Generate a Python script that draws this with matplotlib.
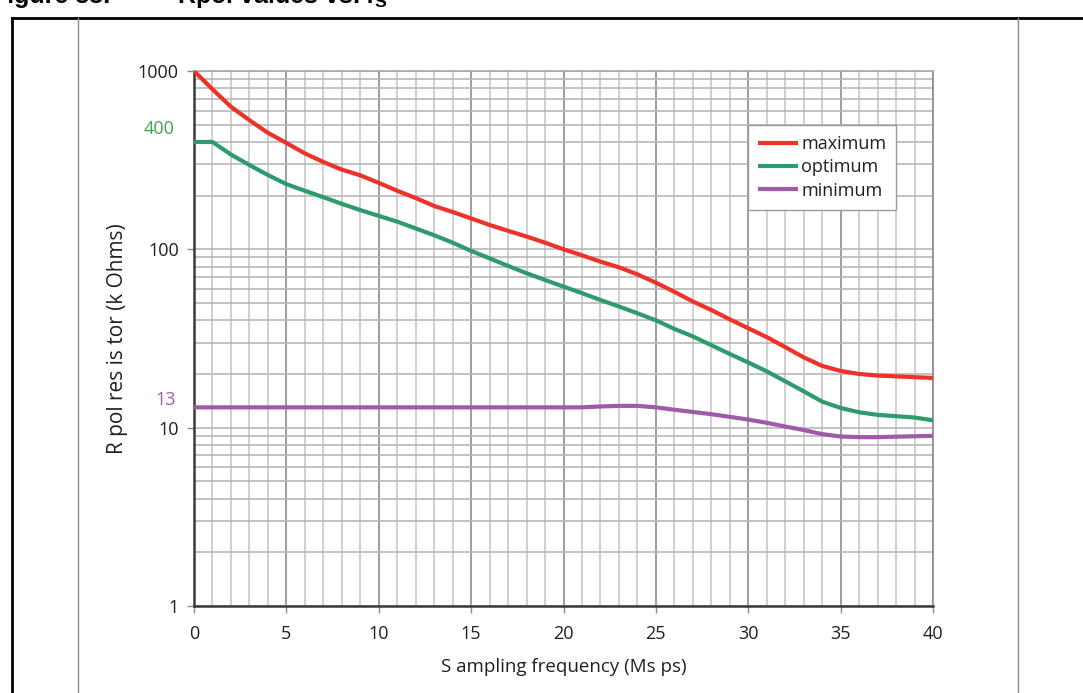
import matplotlib.pyplot as plt
from matplotlib.lines import Line2D
from matplotlib.ticker import LogLocator, NullFormatter, FixedLocator, MultipleLocator

plt.rcParams['font.family'] = ['Open Sans', 'DejaVu Sans']
plt.rcParams['mathtext.default'] = 'regular'

# значення (k Ohms)
freq = list(range(0, 41))
r_max = [1000, 790, 630, 530, 450, 395, 345, 309, 280, 260,
         236, 213, 194, 175, 162, 149, 137, 127, 118, 109,
         100, 92.6, 85.3, 79.3, 72.4, 65, 57.8, 51, 45.7, 40.5,
         36.1, 32.2, 28.3, 24.8, 22.2, 20.8, 20.0, 19.6, 19.4, 19.2, 19.0]
r_opt = [400, 400, 340, 297, 261, 232, 213, 196, 180, 166,
         154, 143, 131, 120, 109, 98, 89, 80.7, 73.5, 67.3,
         61.8, 56.8, 52, 47.8, 43.8, 40, 35.8, 32.5, 29, 25.9,
         23.2, 20.7, 18.2, 16.0, 14.0, 12.9, 12.2, 11.8, 11.6, 11.4, 11.0]
r_min = [13.0] * 22 + [13.15, 13.25, 13.25, 13.0, 12.6, 12.25, 11.9, 11.5,
                       11.1, 10.65, 10.15, 9.7, 9.2, 8.92, 8.85, 8.85, 8.9, 8.95, 9.0]

x_ticks = [0, 5, 10, 15, 20, 25, 30, 35, 40]
y_ticks = [1, 10, 100, 1000]

c_max = '#ee3229'
c_opt = '#2e9b6c'
c_min = '#a05aaa'

fig = plt.figure(figsize=(10.83, 6.93), dpi=100)
W, H = 1083, 693
ax = fig.add_axes([194 / W, 1 - 606 / H, (933 - 194) / W, (606 - 71) / H])

# ------------------------------
# рамка сторінки
# ------------------------------
fig.add_artist(Line2D([12 / W, 1.0], [1 - 18 / H, 1 - 18 / H], color='black', lw=2, transform=fig.transFigure))
fig.add_artist(Line2D([12 / W, 12 / W], [0, 1 - 18 / H], color='black', lw=2, transform=fig.transFigure))
for xp in (78, 1018):
    fig.add_artist(Line2D([xp / W, xp / W], [0, 1 - 18 / H], color='#8a8a8a', lw=1, transform=fig.transFigure))

fig.text(-8 / W, 1 - 3 / H, 'Figure 33.', family='Liberation Sans', weight='bold', fontsize=18, va='baseline')
fig.text(177 / W, 1 - 3 / H, r'Rpol values vs. f$_S$', family='Liberation Sans', weight='bold', fontsize=18, va='baseline')

# ------------------------------
# криві
# ------------------------------
ax.plot(freq, r_max, color=c_max, lw=3, label='maximum', solid_capstyle='butt', solid_joinstyle='round', zorder=5)
ax.plot(freq, r_opt, color=c_opt, lw=3, label='optimum', solid_capstyle='butt', solid_joinstyle='round', zorder=5)
ax.plot(freq, r_min, color=c_min, lw=3, label='minimum', solid_capstyle='butt', solid_joinstyle='round', zorder=5)

ax.set_yscale('log')
ax.set_xlim(0, 40)
ax.set_ylim(1, 1000)

ax.xaxis.set_major_locator(FixedLocator(x_ticks))
ax.xaxis.set_minor_locator(MultipleLocator(1))
ax.yaxis.set_major_locator(FixedLocator(y_ticks))
ax.yaxis.set_minor_locator(LogLocator(base=10, subs=range(2, 10)))
ax.yaxis.set_minor_formatter(NullFormatter())
ax.set_yticklabels([str(v) for v in y_ticks])

ax.tick_params(axis='both', which='major', labelsize=13, labelcolor='#231f20',
               color='#8a8a8a', length=5, width=1, direction='out')
ax.tick_params(axis='x', which='major', pad=9)
ax.tick_params(axis='y', which='major', pad=6)
ax.tick_params(which='minor', length=0)

ax.grid(True, which='major', axis='x', color='#8c8c8c', lw=1.2)
ax.grid(True, which='minor', axis='x', color='#c8c8c8', lw=1.2)
ax.grid(True, which='both', axis='y', color='#b8b8b8', lw=1.2)
ax.set_axisbelow(True)

ax.spines['left'].set_color('#3a3a3a')
ax.spines['bottom'].set_color('#3a3a3a')
ax.spines['left'].set_linewidth(1.8)
ax.spines['bottom'].set_linewidth(1.8)
ax.spines['top'].set_color('#a8a8a8')
ax.spines['right'].set_color('#8c8c8c')
ax.spines['top'].set_linewidth(1.2)
ax.spines['right'].set_linewidth(1.2)

ax.set_xlabel('S ampling frequency (Ms ps)', fontsize=13.5, color='#231f20')
ax.set_ylabel('R pol res is tor (k Ohms)', fontsize=15, color='#231f20')
ax.xaxis.set_label_coords(0.5, -0.114)
ax.xaxis.label.set_va('center')
ax.yaxis.set_label_coords(-0.103, 0.5)
ax.yaxis.label.set_va('center')

# підписи рівнів біля осі
ax.annotate('400', xy=(0, r_opt[0]), xytext=(-19, 13), textcoords='offset pixels',
            ha='right', va='center', fontsize=13, color='#3da843', annotation_clip=False)
ax.annotate('13', xy=(0, r_min[0]), xytext=(-18, 7), textcoords='offset pixels',
            ha='right', va='center', fontsize=13, color='#a05aaa', annotation_clip=False)

leg = ax.legend(loc='upper left', bbox_to_anchor=(748 / W, 1 - 125 / H), bbox_transform=fig.transFigure,
                fontsize=13, frameon=True, fancybox=False, framealpha=1, edgecolor='#9a9a9a',
                handlelength=2.2, handletextpad=0.2, labelspacing=0.3, borderpad=0.55,
                borderaxespad=0)
leg.get_frame().set_linewidth(1)
for t in leg.get_texts():
    t.set_color('#231f20')
leg.set_zorder(10)

fig.savefig('out.png', dpi=100)
